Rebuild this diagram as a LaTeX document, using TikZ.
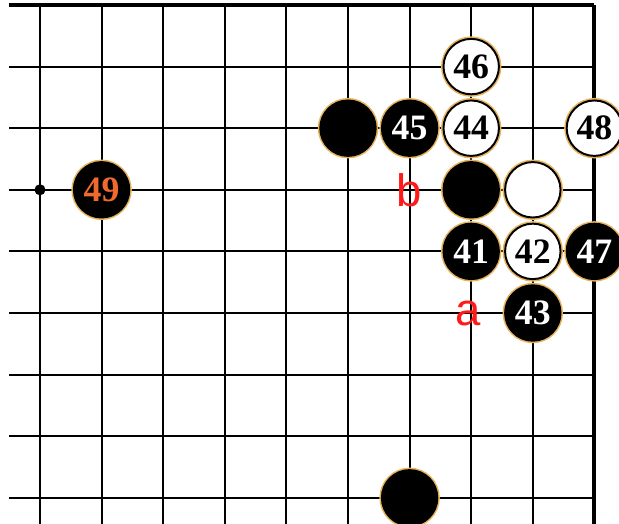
\documentclass[tikz,border=0pt]{standalone}
\usepackage{fontspec}
\setmainfont{Liberation Serif}
\newfontfamily\letterfont{Liberation Sans}
\usetikzlibrary{positioning}
\definecolor{ringgold}{HTML}{E6B35A}
\definecolor{letterred}{HTML}{FF1A1A}
\definecolor{lastorange}{HTML}{F06A30}
\tikzset{
  gridline/.style={line width=0.95pt},
  edgeline/.style={line width=1.9pt},
  stone/.style={circle,draw=black,line width=0.9pt,minimum size=0.9cm,inner sep=0pt,
    preaction={draw=ringgold,line width=2.3pt},
    font=\fontsize{16.5}{16.5}\selectfont\bfseries},
  blackstone/.style={stone,fill=black,text=white},
  whitestone/.style={stone,fill=white,text=black},
  pointlabel/.style={inner sep=0pt,text=letterred,font=\letterfont\fontsize{21}{21}\selectfont}
}

\begin{document}
\begin{tikzpicture}
\useasboundingbox[fill=white] (-0.649,0.081) rectangle (9.399,-8.425);
% board lines
\foreach \r in {1,...,8} \draw[gridline] (-0.5,-\r) -- (9,-\r);
\foreach \c in {0,...,8} \draw[gridline] (\c,0) -- (\c,-8.425);
\draw[edgeline] (-0.5,0) -- (9,0);
\draw[edgeline] (9,0) -- (9,-8.425);
\fill (0,-3) circle (0.09);
% letters
\node[pointlabel] (b) at (6,-3) {b};
\node[pointlabel] (a) at (6.95,-5) {a};
% stones
\node[blackstone] (k1) at (5,-2) {};
\node[blackstone] (k2) at (7,-3) {};
\node[blackstone] (k3) at (6,-8) {};
\node[whitestone] (w1) at (8,-3) {};
\node[blackstone] (s41) at (7,-4) {41};
\node[whitestone] (s42) at (8,-4) {42};
\node[blackstone] (s43) at (8,-5) {43};
\node[whitestone] (s44) at (7,-2) {44};
\node[blackstone] (s45) at (6,-2) {45};
\node[whitestone] (s46) at (7,-1) {46};
\node[blackstone] (s47) at (9,-4) {47};
\node[whitestone] (s48) at (9,-2) {48};
\node[blackstone,text=lastorange] (s49) at (1,-3) {49};
\end{tikzpicture}
\end{document}
